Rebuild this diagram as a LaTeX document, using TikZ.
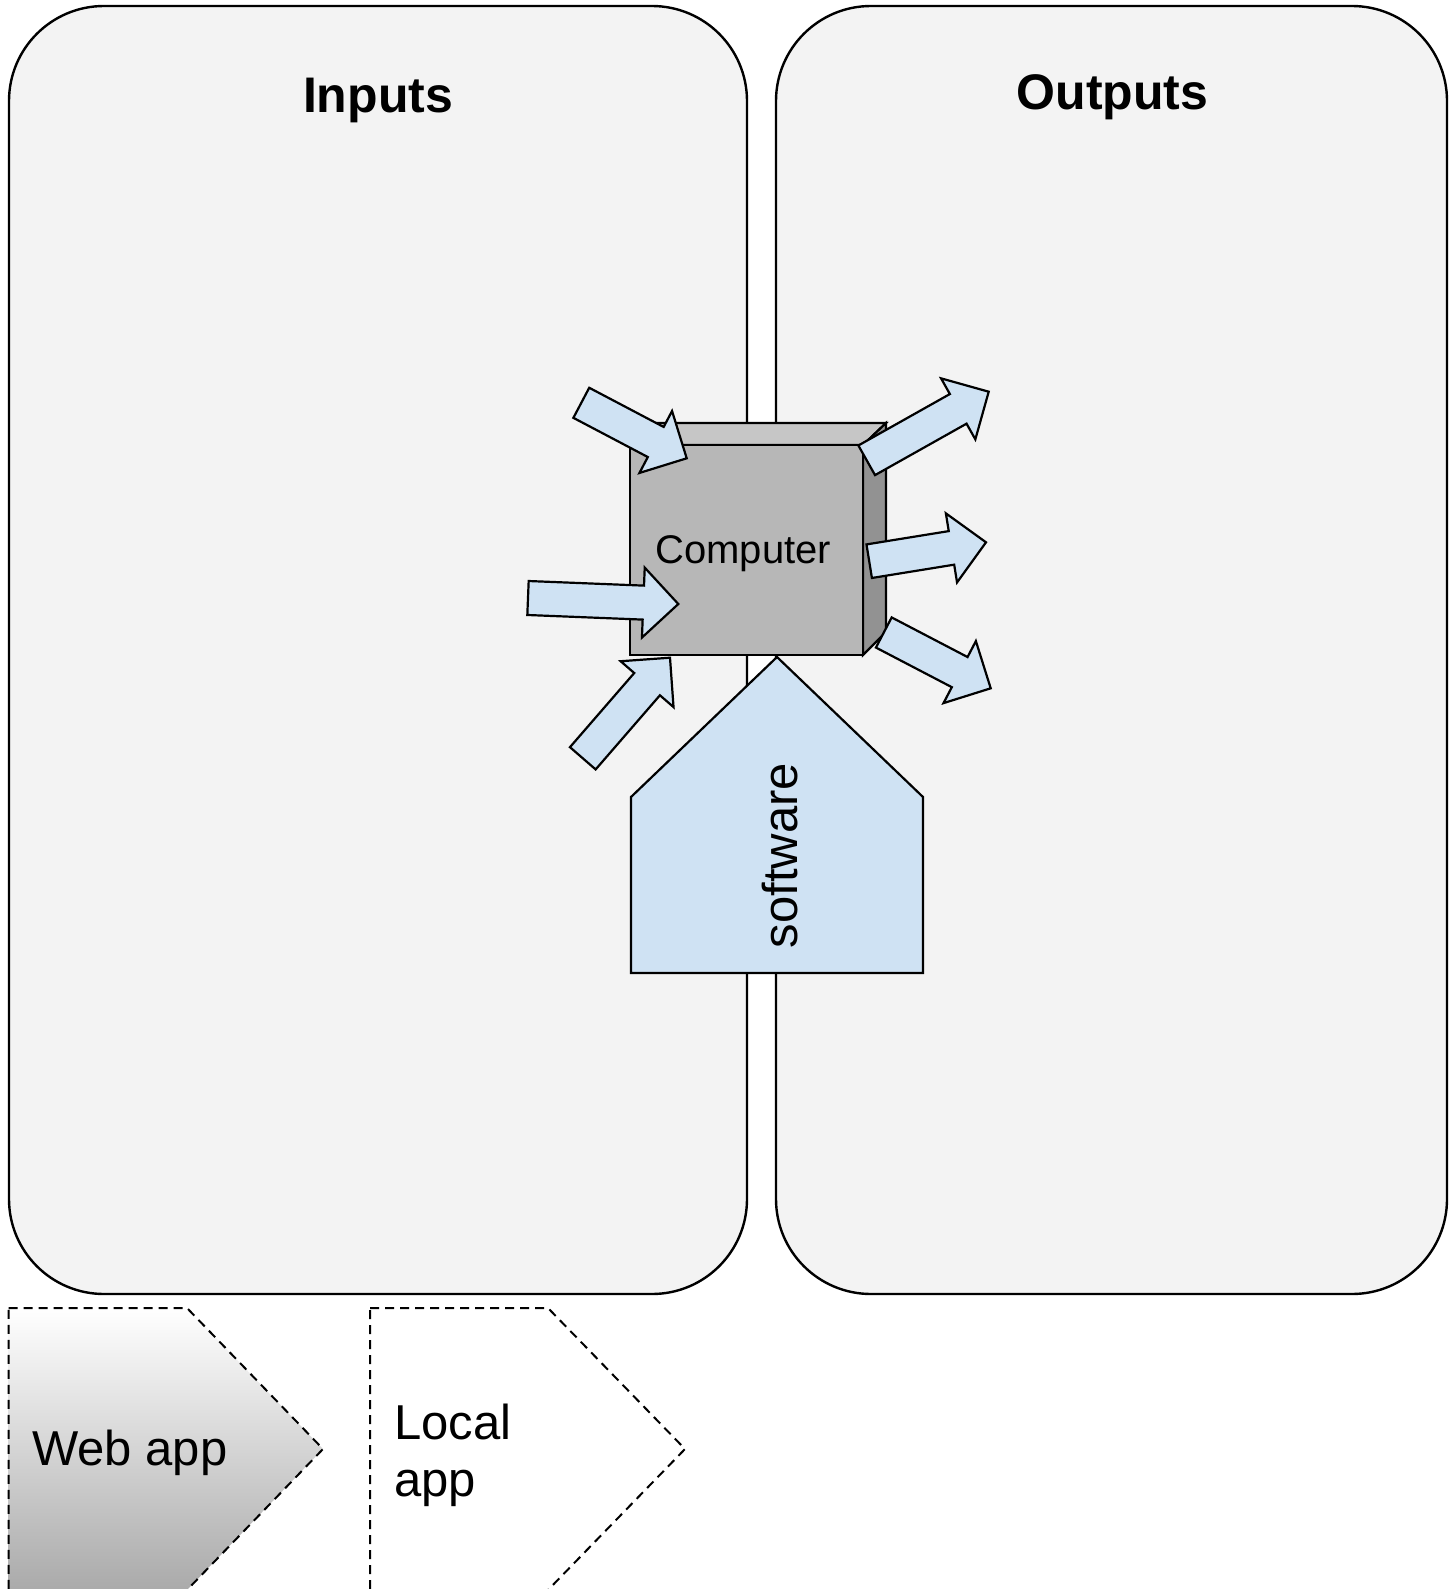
\documentclass[tikz,border=0pt]{standalone}
\usepackage{fontspec}
\setmainfont{Liberation Sans}
\usetikzlibrary{calc}
\definecolor{panelgray}{HTML}{F3F3F3}
\definecolor{lightblue}{HTML}{CFE2F3}
\definecolor{cubefront}{HTML}{B7B7B7}
\definecolor{cubetop}{HTML}{C6C6C6}
\definecolor{cubeside}{HTML}{929292}
\definecolor{shadebottom}{HTML}{AAAAAA}
\tikzset{
  panel/.style={draw=black, line width=2.4pt, fill=panelgray, rounded corners=95pt, inner sep=0pt},
  paneltitle/.style={font=\fontsize{50pt}{60pt}\selectfont\bfseries, inner sep=0pt, anchor=base},
  barrow/.style={draw=black, line width=2.2pt, fill=lightblue, line join=miter},
  cubeface/.style={draw=black, line width=2.2pt, line join=miter},
  appshape/.style={draw=black, line width=2pt, dash pattern=on 9pt off 6pt},
  apptext/.style={font=\fontsize{49pt}{57pt}\selectfont, inner sep=0pt},
}
\newcommand{\blockarrow}[2]{%
  \coordinate (#1h) at ($(#2)!35pt!(#1)$);
  \draw[barrow] ($(#1)!17pt!90:(#2)$) -- ($(#1h)!17pt!90:(#2)$) -- ($(#1h)!35pt!90:(#2)$)
    -- (#2) -- ($(#1h)!35pt!-90:(#2)$) -- ($(#1h)!17pt!-90:(#2)$) -- ($(#1)!17pt!-90:(#2)$) -- cycle;}
\begin{document}
\begin{tikzpicture}[x=1pt, y=-1pt]
\useasboundingbox (0,0) rectangle (1453,1589);
\fill[white] (0,0) rectangle (1453,1589);
% panels
\node[panel, minimum width=738pt, minimum height=1288pt] (inputs) at (378,650) {};
\node[panel, minimum width=671pt, minimum height=1288pt] (outputs) at (1111.5,650) {};
\node[paneltitle] (inputstitle) at (378,112.5) {Inputs};
\node[paneltitle] (outputstitle) at (1112.5,110) {Outputs};
% cube
\draw[cubeface, fill=cubetop] (630,445) -- (653,423) -- (886,423) -- (863,445) -- cycle;
\draw[cubeface, fill=cubeside] (863,445) -- (886,423) -- (886,632) -- (863,655) -- cycle;
\draw[cubeface, fill=cubefront] (630,445) rectangle (863,655);
\node[font=\fontsize{40pt}{48pt}\selectfont, inner sep=0pt, anchor=base] (computer) at (743.3,563) {Computer};
% software
\draw[barrow] (631,973) -- (631,797) -- (777,657) -- (923,797) -- (923,973) -- cycle;
\node[font=\fontsize{49pt}{58pt}\selectfont, inner sep=0pt, anchor=base, rotate=90] (software) at (797,855.5) {software};
% arrows
\coordinate (ta) at (581.3,402.8); \coordinate (pa) at (686.7,458.3);
\coordinate (tb) at (528,598);     \coordinate (pb) at (678.3,604);
\coordinate (tc) at (582.8,758.3); \coordinate (pc) at (670,657.7);
\coordinate (td) at (866.7,460.3); \coordinate (pd) at (988.7,391.7);
\coordinate (te) at (869.2,561.2); \coordinate (pe) at (986,542.3);
\coordinate (tf) at (883.8,632.5); \coordinate (pf) at (990.7,688.3);
\blockarrow{ta}{pa}
\blockarrow{tb}{pb}
\blockarrow{tc}{pc}
\blockarrow{td}{pd}
\blockarrow{te}{pe}
\blockarrow{tf}{pf}
% legend shapes
\shade[top color=white, bottom color=shadebottom] (8.5,1308) -- (187,1308) -- (323,1449) -- (187,1590) -- (8.5,1590) -- cycle;
\draw[appshape] (8.5,1308) -- (187,1308) -- (323,1449) -- (187,1590) -- (8.5,1590) -- cycle;
\node[apptext, anchor=base west] (webapp) at (32,1465) {Web app};
\draw[appshape] (370,1308) -- (548,1308) -- (685,1449) -- (548,1590) -- (370,1590) -- cycle;
\node[apptext, anchor=north west, align=left] (localapp) at (394,1404) {Local\\app};
\end{tikzpicture}
\end{document}
